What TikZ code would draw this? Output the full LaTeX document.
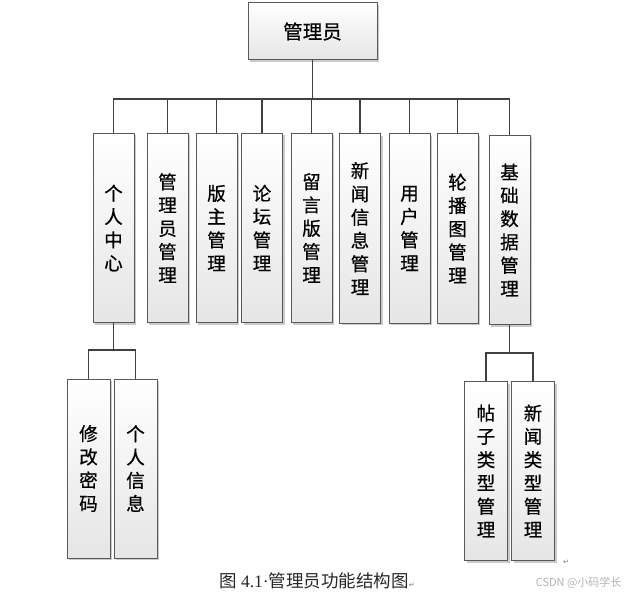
\documentclass[tikz,border=0pt]{standalone}
\usepackage{fontspec}
\setmainfont{Liberation Serif}
\newfontfamily\cjk[FakeBold=0.6]{Noto Sans CJK SC}
\newfontfamily\cjkcap{Noto Sans CJK SC}
\newfontfamily\symfont{DejaVu Sans}
\usepackage{tikz}
\usetikzlibrary{shapes,arrows,shadows}
\begin{document}
\begin{tikzpicture}[x=1pt,y=-1pt,
  box/.style={draw=black!65,line width=1pt,top color=white,bottom color=black!10,inner sep=0pt,align=center,
    drop shadow={shadow xshift=2pt,shadow yshift=-2pt,opacity=0.35,fill=black!60},
    font=\cjk\fontsize{18.5}{23.3}\selectfont},
  col/.style={box,minimum width=41pt,minimum height=189pt},
  leaf/.style={box,minimum width=43pt,minimum height=179pt},
  link/.style={draw=black!75,line width=1.5pt}]
\useasboundingbox (0,0) rectangle (630,594);

\node [box,minimum width=129pt,minimum height=57pt,font=\cjk\fontsize{19.5}{23}\selectfont] (v0) at (312.5,31.5) {管理员};

\node [col] (v1) at (113.5,228) {个\\人\\中\\心};
\node [col] (v2) at (167.5,228) {管\\理\\员\\管\\理};
\node [col] (v3) at (216.5,228) {版\\主\\管\\理};
\node [col] (v4) at (262,228) {论\\坛\\管\\理};
\node [col] (v5) at (311.5,228) {留\\言\\版\\管\\理};
\node [col] (v6) at (360,228.5) {新\\闻\\信\\息\\管\\理};
\node [col] (v7) at (409.5,228.5) {用\\户\\管\\理};
\node [col] (v8) at (457.5,228.5) {轮\\播\\图\\管\\理};
\node [col] (v9) at (509.5,230) {基\\础\\数\\据\\管\\理};

\node [leaf] (v10) at (88.5,468.5) {修\\改\\密\\码};
\node [leaf] (v11) at (135.5,468.5) {个\\人\\信\\息};
\node [leaf] (v12) at (486,471) {帖\\子\\类\\型\\管\\理};
\node [leaf] (v13) at (533,471) {新\\闻\\类\\型\\管\\理};

\coordinate (bus) at (312.5,99);
\coordinate (k1) at (113.5,350);
\coordinate (k2) at (509.5,353);

\draw[link] (v0) -- (bus);
\foreach \x in {1,...,9}
    \draw[link] (v\x.north) |- (bus);
\draw[link] (v1) -- (k1);
\foreach \x in {10,11}
    \draw[link] (v\x.north) |- (k1);
\draw[link] (v9) -- (k2);
\foreach \x in {12,13}
    \draw[link] (v\x.north) |- (k2);

\node [anchor=west,font=\fontsize{17.5}{19}\selectfont,text=black!85,inner sep=0pt] (cap) at (219,581) {{\cjkcap 图} 4.1·{\cjkcap 管理员功能结构图}{\symfont\fontsize{7}{8}\selectfont\color{black!55}↵}};
\node [font=\symfont\fontsize{7}{8}\selectfont,text=black!55] (r2) at (566,562) {↵};
\node [anchor=east,font=\cjkcap\fontsize{11}{13}\selectfont,text=black!30] (wm) at (625,583) {CSDN @小码学长};

\end{tikzpicture}
\end{document}
